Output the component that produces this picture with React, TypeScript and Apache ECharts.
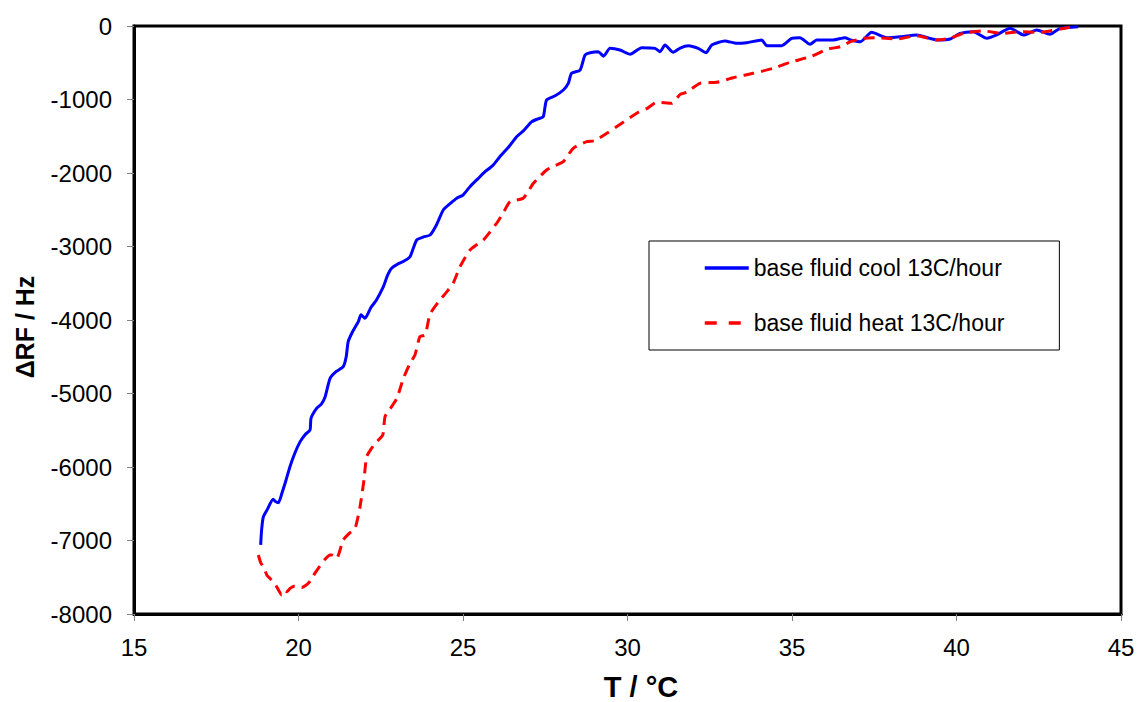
import React, { useEffect, useRef } from "react";
import * as echarts from "echarts";

const xTicks = { min: 15, max: 45, interval: 5 };
const yTicks = { min: -8000, max: 0, interval: 1000 };

const coolName = "base fluid cool 13C/hour";
const heatName = "base fluid heat 13C/hour";
const xTitle = "T / °C";
const yTitle = "ΔRF / Hz";

const coolData: [number, number][] = [
  [18.85, -7060], [18.88, -6850], [18.93, -6680], [19.05, -6580], [19.23, -6440], [19.3, -6470],
  [19.39, -6485], [19.5, -6350], [19.62, -6180], [19.74, -5996], [19.9, -5800], [20.05, -5655],
  [20.2, -5560], [20.35, -5497], [20.38, -5338], [20.55, -5202], [20.7, -5140], [20.81, -5043],
  [20.96, -4793], [21.15, -4700], [21.36, -4635], [21.45, -4500], [21.51, -4295], [21.62, -4180],
  [21.76, -4068], [21.82, -4023], [21.9, -3930], [22.02, -3977], [22.2, -3830], [22.37, -3728],
  [22.58, -3547], [22.7, -3400], [22.83, -3297], [23.05, -3230], [23.2, -3200], [23.39, -3139],
  [23.59, -2912], [23.8, -2870], [24.0, -2844], [24.2, -2700], [24.4, -2503], [24.6, -2420],
  [24.81, -2344], [25.0, -2300], [25.21, -2186], [25.45, -2080], [25.67, -1982], [25.9, -1900],
  [26.12, -1778], [26.4, -1640], [26.63, -1506], [26.85, -1420], [27.09, -1302], [27.3, -1260],
  [27.44, -1234], [27.54, -1007], [27.8, -950], [28.05, -871], [28.2, -780], [28.3, -644],
  [28.56, -599], [28.71, -395], [28.9, -360], [29.11, -350], [29.27, -410], [29.47, -304],
  [29.77, -327], [30.08, -385], [30.43, -295], [30.84, -304], [30.99, -350], [31.14, -259],
  [31.39, -358], [31.6, -300], [31.85, -268], [32.15, -304], [32.39, -363], [32.56, -259],
  [32.96, -204], [33.32, -236], [33.62, -227], [34.08, -190], [34.23, -268], [34.69, -268],
  [34.99, -168], [35.24, -159], [35.55, -249], [35.75, -190], [36.26, -190], [36.61, -159],
  [36.78, -190], [37.08, -213], [37.42, -86], [37.88, -159], [38.28, -146], [38.79, -122],
  [39.19, -168], [39.45, -190], [39.8, -177], [40.11, -100], [40.51, -77], [40.92, -168],
  [41.22, -122], [41.63, -32], [42.04, -122], [42.44, -55], [42.84, -113], [43.15, -32],
  [43.7, -9],
];

const heatData: [number, number][] = [
  [18.78, -7197], [18.85, -7300], [18.93, -7356], [19.05, -7480], [19.13, -7514], [19.3, -7600],
  [19.49, -7741], [19.55, -7680], [19.64, -7696], [19.75, -7650], [19.89, -7619], [20.1, -7640],
  [20.3, -7582], [20.45, -7480], [20.6, -7378], [20.8, -7260], [20.96, -7197], [21.05, -7200],
  [21.16, -7242], [21.36, -6993], [21.55, -6900], [21.72, -6834], [21.87, -6540], [21.99, -6177],
  [22.07, -5860], [22.2, -5760], [22.33, -5678], [22.56, -5565], [22.63, -5315], [22.8, -5200],
  [22.99, -5066], [23.19, -4793], [23.39, -4590], [23.54, -4476], [23.69, -4227], [23.85, -4204],
  [24.0, -3920], [24.3, -3728], [24.5, -3620], [24.7, -3500], [24.91, -3275], [25.21, -3048],
  [25.4, -2980], [25.62, -2912], [26.02, -2685], [26.2, -2560], [26.43, -2390], [26.83, -2344],
  [27.14, -2140], [27.54, -1959], [27.8, -1900], [28.05, -1846], [28.35, -1664], [28.76, -1574],
  [29.0, -1560], [29.37, -1460], [29.87, -1310], [30.33, -1174], [30.6, -1120], [30.89, -1038],
  [31.34, -1052], [31.6, -930], [31.8, -902], [32.2, -780], [32.71, -766], [33.21, -703],
  [33.82, -644], [34.43, -576], [34.94, -494], [35.55, -418], [36.1, -313], [36.47, -282],
  [36.78, -213], [37.17, -168], [37.57, -159], [38.18, -177], [38.79, -132], [39.39, -190],
  [39.8, -168], [40.21, -100], [40.81, -68], [41.42, -100], [41.93, -77], [42.54, -86],
  [43.15, -41], [43.55, -9],
];

const FONT = "'Liberation Sans', Arial, sans-serif";

export default function App() {
  const ref = useRef<HTMLDivElement>(null);
  useEffect(() => {
    if (!ref.current) return;
    const chart = echarts.init(ref.current, null, { renderer: "svg" });
    chart.setOption({
      animation: false,
      backgroundColor: "#fff",
      textStyle: { fontFamily: FONT },
      grid: {
        left: 134, right: 18, top: 26, bottom: 88,
        show: true, borderColor: "#000", borderWidth: 3,
      },
      legend: {
        orient: "vertical",
        left: 649,
        top: 241,
        padding: [15, 55, 15, 54],
        borderColor: "#000",
        borderWidth: 1,
        itemWidth: 44,
        itemHeight: 14,
        itemGap: 31,
        itemStyle: { opacity: 0 },
        textStyle: { fontSize: 23, color: "#000", fontFamily: FONT, lineHeight: 24 },
        data: [
          { name: coolName, lineStyle: { width: 3.5, type: "solid" } },
          { name: heatName, lineStyle: { type: [12, 12], width: 3.5 } },
        ],
      },
      graphic: [
        {
          type: "text",
          x: 641,
          y: 687,
          style: {
            text: xTitle,
            font: `bold 29px ${FONT}`,
            lineHeight: 26,
            fill: "#000",
            align: "center",
            verticalAlign: "middle",
          },
        },
        {
          type: "text",
          x: 25,
          y: 327,
          rotation: Math.PI / 2,
          style: {
            text: yTitle,
            font: `bold 25px ${FONT}`,
            fill: "#000",
            align: "center",
            verticalAlign: "middle",
          },
        },
      ],
      xAxis: {
        type: "value",
        min: xTicks.min, max: xTicks.max, interval: xTicks.interval,
        axisLine: { show: true, onZero: false, lineStyle: { color: "#000", width: 3 } },
        axisTick: { show: true, length: 7, lineStyle: { color: "#808080", width: 1 } },
        axisLabel: { fontSize: 24, color: "#000", margin: 21, fontFamily: FONT },
        splitLine: { show: false },
      },
      yAxis: {
        type: "value",
        min: yTicks.min, max: yTicks.max, interval: yTicks.interval,
        axisLine: { show: true, onZero: false, lineStyle: { color: "#000", width: 3 } },
        axisTick: { show: true, length: 7, lineStyle: { color: "#808080", width: 1 } },
        axisLabel: { fontSize: 24, color: "#000", margin: 22, fontFamily: FONT, formatter: (v: number) => String(v) },
        splitLine: { show: false },
      },
      series: [
        {
          name: coolName,
          type: "line",
          data: coolData,
          symbol: "none",
          smooth: 0.2,
          lineStyle: { color: "#0000ff", width: 3 },
          itemStyle: { color: "#0000ff" },
        },
        {
          name: heatName,
          type: "line",
          data: heatData,
          symbol: "none",
          smooth: 0.2,
          lineStyle: { color: "#ff0000", width: 3, type: [11, 7] },
          itemStyle: { color: "#ff0000" },
        },
      ],
    });
    return () => chart.dispose();
  }, []);
  return (
    <div
      ref={ref}
      style={{ position: "fixed", left: 0, top: 0, width: 1139, height: 702, background: "#fff" }}
    />
  );
}
